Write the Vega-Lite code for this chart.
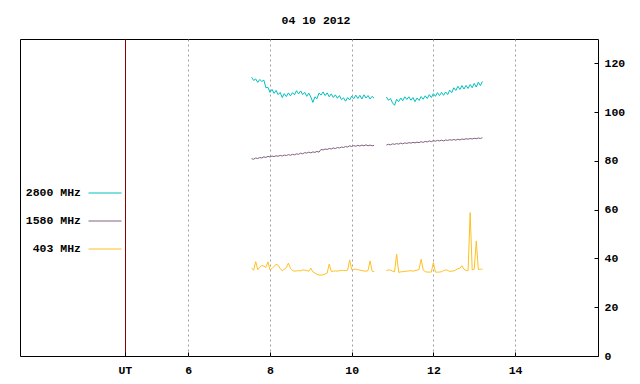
{
"$schema":"https://vega.github.io/schema/vega-lite/v6.json",
"width":578,"height":317,
"autosize":{"type":"none"},
"padding":{"left":20,"top":39,"right":42,"bottom":28},
"background":"white",
"title":{"text":"04 10 2012","font":"Liberation Mono","fontSize":11.5,"fontWeight":"bold","color":"black","offset":13,"dx":7},
"config":{"view":{"stroke":"black","strokeWidth":1},
 "axis":{"labelFont":"Liberation Mono","labelFontSize":11.5,"labelFontWeight":"bold","labelColor":"black","domain":false,"tickColor":"black"}},
"data":{"values":[
{"t":7.55,"g":1,"a":114.3,"b":80.9,"c":36.0},
{"t":7.60,"g":1,"a":113.0,"b":80.7,"c":35.2},
{"t":7.65,"g":1,"a":113.6,"b":81.2,"c":38.7},
{"t":7.70,"g":1,"a":112.2,"b":81.0,"c":35.4},
{"t":7.75,"g":1,"a":113.4,"b":81.4,"c":36.4},
{"t":7.80,"g":1,"a":112.6,"b":81.2,"c":37.1},
{"t":7.85,"g":1,"a":113.1,"b":81.7,"c":36.9},
{"t":7.90,"g":1,"a":110.0,"b":81.4,"c":36.3},
{"t":7.95,"g":1,"a":110.2,"b":81.9,"c":38.6},
{"t":8.00,"g":1,"a":108.1,"b":81.6,"c":35.3},
{"t":8.05,"g":1,"a":109.3,"b":82.0,"c":35.9},
{"t":8.10,"g":1,"a":107.7,"b":81.8,"c":36.8},
{"t":8.15,"g":1,"a":108.9,"b":82.1,"c":37.6},
{"t":8.20,"g":1,"a":107.2,"b":81.9,"c":37.2},
{"t":8.25,"g":1,"a":108.1,"b":82.3,"c":35.8},
{"t":8.30,"g":1,"a":106.0,"b":82.0,"c":35.0},
{"t":8.35,"g":1,"a":107.6,"b":82.4,"c":35.6},
{"t":8.40,"g":1,"a":106.4,"b":82.2,"c":36.2},
{"t":8.45,"g":1,"a":107.9,"b":82.6,"c":38.1},
{"t":8.50,"g":1,"a":106.7,"b":82.3,"c":36.0},
{"t":8.55,"g":1,"a":108.0,"b":82.7,"c":35.1},
{"t":8.60,"g":1,"a":107.1,"b":82.5,"c":34.8},
{"t":8.65,"g":1,"a":108.8,"b":82.9,"c":34.9},
{"t":8.70,"g":1,"a":107.5,"b":82.7,"c":35.0},
{"t":8.75,"g":1,"a":108.7,"b":83.2,"c":34.9},
{"t":8.80,"g":1,"a":107.2,"b":82.9,"c":35.3},
{"t":8.85,"g":1,"a":108.1,"b":83.4,"c":35.2},
{"t":8.90,"g":1,"a":106.5,"b":83.2,"c":35.0},
{"t":8.95,"g":1,"a":107.8,"b":83.6,"c":34.8},
{"t":9.00,"g":1,"a":106.2,"b":83.3,"c":36.0},
{"t":9.05,"g":1,"a":104.0,"b":83.7,"c":34.5},
{"t":9.10,"g":1,"a":106.3,"b":83.5,"c":34.0},
{"t":9.15,"g":1,"a":105.5,"b":83.9,"c":33.5},
{"t":9.20,"g":1,"a":107.8,"b":83.6,"c":33.2},
{"t":9.25,"g":1,"a":107.0,"b":84.7,"c":33.2},
{"t":9.30,"g":1,"a":108.3,"b":84.5,"c":33.3},
{"t":9.35,"g":1,"a":106.8,"b":84.9,"c":33.6},
{"t":9.40,"g":1,"a":107.9,"b":84.7,"c":34.0},
{"t":9.45,"g":1,"a":106.3,"b":85.1,"c":37.7},
{"t":9.50,"g":1,"a":107.5,"b":84.9,"c":34.7},
{"t":9.55,"g":1,"a":106.0,"b":85.3,"c":34.8},
{"t":9.60,"g":1,"a":107.1,"b":85.1,"c":34.9},
{"t":9.65,"g":1,"a":105.7,"b":85.5,"c":34.8},
{"t":9.70,"g":1,"a":106.8,"b":85.3,"c":35.0},
{"t":9.75,"g":1,"a":105.1,"b":85.7,"c":35.0},
{"t":9.80,"g":1,"a":105.9,"b":85.5,"c":35.1},
{"t":9.85,"g":1,"a":104.5,"b":85.9,"c":35.0},
{"t":9.90,"g":1,"a":106.0,"b":85.7,"c":35.2},
{"t":9.95,"g":1,"a":105.0,"b":86.2,"c":39.4},
{"t":10.00,"g":1,"a":106.6,"b":85.9,"c":35.4},
{"t":10.05,"g":1,"a":105.5,"b":86.3,"c":35.5},
{"t":10.10,"g":1,"a":107.0,"b":86.0,"c":35.6},
{"t":10.15,"g":1,"a":105.6,"b":86.4,"c":35.4},
{"t":10.20,"g":1,"a":106.9,"b":86.1,"c":35.2},
{"t":10.25,"g":1,"a":105.4,"b":86.5,"c":35.0},
{"t":10.30,"g":1,"a":107.1,"b":86.2,"c":34.9},
{"t":10.35,"g":1,"a":105.8,"b":86.6,"c":34.8},
{"t":10.40,"g":1,"a":106.8,"b":86.2,"c":35.0},
{"t":10.45,"g":1,"a":105.4,"b":86.5,"c":39.0},
{"t":10.50,"g":1,"a":106.5,"b":86.2,"c":34.8},
{"t":10.55,"g":1,"a":105.7,"b":86.4,"c":34.6},
{"t":10.85,"g":2,"a":106.2,"b":86.5,"c":35.0},
{"t":10.90,"g":2,"a":104.9,"b":86.8,"c":35.3},
{"t":10.95,"g":2,"a":105.6,"b":86.6,"c":35.2},
{"t":11.00,"g":2,"a":103.8,"b":87.0,"c":34.8},
{"t":11.05,"g":2,"a":102.8,"b":86.8,"c":34.5},
{"t":11.10,"g":2,"a":105.3,"b":87.1,"c":41.8},
{"t":11.15,"g":2,"a":104.3,"b":86.9,"c":34.3},
{"t":11.20,"g":2,"a":105.8,"b":87.3,"c":34.5},
{"t":11.25,"g":2,"a":104.7,"b":87.0,"c":34.6},
{"t":11.30,"g":2,"a":106.3,"b":87.4,"c":34.7},
{"t":11.35,"g":2,"a":105.2,"b":87.2,"c":34.8},
{"t":11.40,"g":2,"a":106.3,"b":87.5,"c":34.9},
{"t":11.45,"g":2,"a":104.9,"b":87.3,"c":35.0},
{"t":11.50,"g":2,"a":106.0,"b":87.6,"c":34.8},
{"t":11.55,"g":2,"a":104.3,"b":87.4,"c":35.0},
{"t":11.60,"g":2,"a":105.8,"b":87.7,"c":35.2},
{"t":11.65,"g":2,"a":104.8,"b":87.5,"c":35.5},
{"t":11.70,"g":2,"a":106.4,"b":87.9,"c":39.7},
{"t":11.75,"g":2,"a":105.3,"b":87.6,"c":35.3},
{"t":11.80,"g":2,"a":106.7,"b":88.0,"c":34.6},
{"t":11.85,"g":2,"a":105.6,"b":87.8,"c":34.4},
{"t":11.90,"g":2,"a":107.2,"b":88.2,"c":34.4},
{"t":11.95,"g":2,"a":106.0,"b":87.9,"c":34.4},
{"t":12.00,"g":2,"a":107.6,"b":88.3,"c":38.3},
{"t":12.05,"g":2,"a":106.5,"b":88.1,"c":34.4},
{"t":12.10,"g":2,"a":108.0,"b":88.4,"c":34.4},
{"t":12.15,"g":2,"a":106.8,"b":88.2,"c":34.4},
{"t":12.20,"g":2,"a":108.1,"b":88.5,"c":34.6},
{"t":12.25,"g":2,"a":106.9,"b":88.2,"c":35.0},
{"t":12.30,"g":2,"a":108.3,"b":88.6,"c":35.3},
{"t":12.35,"g":2,"a":107.2,"b":88.4,"c":35.1},
{"t":12.40,"g":2,"a":109.0,"b":88.7,"c":34.7},
{"t":12.45,"g":2,"a":108.0,"b":88.5,"c":34.8},
{"t":12.50,"g":2,"a":110.0,"b":88.8,"c":34.9},
{"t":12.55,"g":2,"a":108.9,"b":88.5,"c":35.3},
{"t":12.60,"g":2,"a":110.6,"b":88.9,"c":35.8},
{"t":12.65,"g":2,"a":109.3,"b":88.6,"c":36.0},
{"t":12.70,"g":2,"a":110.9,"b":89.0,"c":37.0},
{"t":12.75,"g":2,"a":109.5,"b":88.8,"c":35.6},
{"t":12.80,"g":2,"a":111.0,"b":89.1,"c":35.1},
{"t":12.85,"g":2,"a":109.7,"b":88.9,"c":35.0},
{"t":12.90,"g":2,"a":111.3,"b":89.2,"c":58.8},
{"t":12.95,"g":2,"a":110.0,"b":89.0,"c":35.3},
{"t":13.00,"g":2,"a":111.8,"b":89.3,"c":35.6},
{"t":13.05,"g":2,"a":110.3,"b":89.1,"c":47.2},
{"t":13.10,"g":2,"a":112.3,"b":89.4,"c":35.5},
{"t":13.15,"g":2,"a":110.9,"b":89.2,"c":35.6},
{"t":13.20,"g":2,"a":112.6,"b":89.5,"c":35.6}
]},
"transform":[{"fold":["a","b","c"],"as":["k","v"]}],
"mark":{"type":"line","strokeWidth":1,"clip":true},
"encoding":{
 "x":{"field":"t","type":"quantitative","scale":{"domain":[1.88,16.03],"nice":false,"zero":false},
  "axis":{"title":null,"values":[4.4453,6,8,10,12,14],"labelExpr":"datum.value < 5 ? 'UT' : datum.label","grid":true,
   "gridDash":{"condition":{"test":"datum.value < 5","value":[]},"value":[2,3]},
   "gridColor":{"condition":{"test":"datum.value < 5","value":"#8b0000"},"value":"#a0a0a0"},
   "tickSize":-4,"labelPadding":12,"labelOverlap":false}},
 "y":{"field":"v","type":"quantitative","scale":{"domain":[0,130],"nice":false},
  "axis":{"title":null,"orient":"right","values":[0,20,40,60,80,100,120],"grid":false,"tickSize":-4,"labelPadding":10}},
 "color":{"field":"k","type":"nominal","scale":{"domain":["a","b","c"],"range":["#00c0c0","#806080","#ffc020"]},
  "legend":{"orient":"none","legendX":68,"legendY":137,"title":null,"symbolType":"stroke","symbolSize":1089,"symbolStrokeWidth":1,"labelAlign":"right","labelOffset":-41,"labelFont":"Liberation Mono","labelFontSize":11.5,"labelFontWeight":"bold","labelColor":"black","rowPadding":5,"padding":0,
   "labelExpr":"datum.label == 'a' ? '2800 MHz' : datum.label == 'b' ? '1580 MHz' : '403 MHz'"}},
 "detail":{"field":"g"}}
}
